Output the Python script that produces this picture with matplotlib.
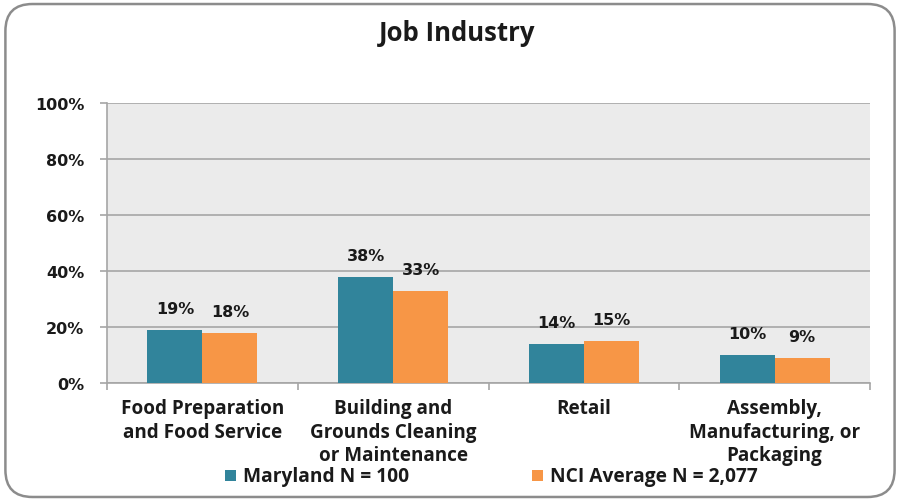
import matplotlib
matplotlib.use("Agg")
import matplotlib.pyplot as plt
from matplotlib.patches import FancyBboxPatch, Rectangle
import numpy as np

categories = ["Food Preparation\nand Food Service",
              "Building and\nGrounds Cleaning\nor Maintenance",
              "Retail",
              "Assembly,\nManufacturing, or\nPackaging"]
maryland = [19, 38, 14, 10]
nci_avg = [18, 33, 15, 9]
series_names = ["Maryland N = 100", "NCI Average N = 2,077"]
yticks = [0, 20, 40, 60, 80, 100]

teal = "#31849b"
orange = "#f79646"
label_font = ["Open Sans", "DejaVu Sans"]

fig = plt.figure(figsize=(9, 5.02), dpi=100)
fig.patch.set_facecolor("white")

# rounded chart frame
frame = FancyBboxPatch((0.006, 0.008), 0.988, 0.982,
                       boxstyle="round,pad=0,rounding_size=0.03",
                       transform=fig.transFigure, facecolor="none",
                       edgecolor="#8c8c8c", linewidth=1.8, mutation_aspect=900/502)
fig.patches.append(frame)

ax = fig.add_axes([107/900, 1-384/502, (870-107)/900, (384-104)/502])
ax.set_facecolor("#ebebeb")

x = np.arange(len(categories))
w = 0.288
b1 = ax.bar(x - w/2, maryland, w, color=teal, zorder=3, label=series_names[0])
b2 = ax.bar(x + w/2, nci_avg, w, color=orange, zorder=3, label=series_names[1])

for bars, vals in ((b1, maryland), (b2, nci_avg)):
    for r, v in zip(bars, vals):
        ax.annotate(f"{v}%", (r.get_x() + r.get_width()/2, v),
                    xytext=(0, 10), textcoords="offset points",
                    ha="center", va="bottom", fontsize=11.5,
                    fontweight="bold", color="#1a1a1a")

ax.set_xlim(-0.5, len(categories) - 0.5)
ax.set_ylim(0, 100)
ax.set_yticks(yticks)
ax.set_yticklabels([f"{t}%" for t in yticks], fontsize=11.5,
                   fontweight="bold", color="#1a1a1a")
ax.yaxis.grid(True, color="#a6a6a6", linewidth=1.2, zorder=1)
ax.tick_params(axis="y", length=5, color="#a6a6a6", width=1.2, pad=11.5)

ax.set_xticks(np.arange(-0.5, len(categories)), minor=False)
ax.set_xticklabels([])
ax.tick_params(axis="x", length=5, color="#a6a6a6", width=1.2)
for xi, c in zip(x, categories):
    ax.text(xi, -5.5, c, ha="center", va="top", fontsize=13.6,
            fontweight="bold", family=label_font, color="#1a1a1a",
            linespacing=1.22, transform=ax.transData)

for s in ("top", "right"):
    ax.spines[s].set_visible(False)
for s in ("left", "bottom"):
    ax.spines[s].set_color("#a6a6a6")
    ax.spines[s].set_linewidth(1.2)

fig.text(457/900, 1-34/502, "Job Industry", ha="center", va="center",
         fontsize=18.5, fontweight="bold", family=label_font, color="#1a1a1a")

# legend
for px, col, name in ((225, teal, series_names[0]), (532, orange, series_names[1])):
    fig.patches.append(Rectangle((px/900, 1-482/502), 11/900, 11/502,
                                 transform=fig.transFigure, facecolor=col,
                                 edgecolor="none"))
    fig.text((px + 18)/900, 1-477/502, name, ha="left", va="center",
             fontsize=13.8, fontweight="bold", family=label_font, color="#1a1a1a")

fig.savefig("out.png", dpi=100)
